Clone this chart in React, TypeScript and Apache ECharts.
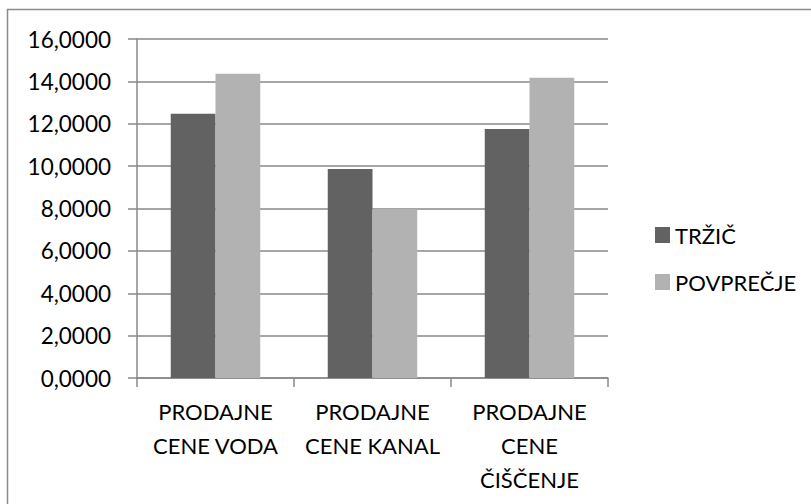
import React, { useEffect, useRef } from "react";
import * as echarts from "echarts";

const categories = [
  "PRODAJNE\nCENE VODA",
  "PRODAJNE\nCENE KANAL",
  "PRODAJNE\nCENE\nČIŠČENJE",
];
const seriesNames = ["TRŽIČ", "POVPREČJE"];
const trzicValues = [12.47, 9.86, 11.75];
const povprecjeValues = [14.36, 7.98, 14.17];
const yTicks = { min: 0, max: 16, interval: 2 };

const FONT = "Lato";

export default function App() {
  const ref = useRef<HTMLDivElement>(null);
  useEffect(() => {
    if (!ref.current) return;
    const chart = echarts.init(ref.current, null, { renderer: "svg" });
    chart.setOption({
      animation: false,
      backgroundColor: "#ffffff",
      textStyle: { fontFamily: FONT },
      graphic: [
        {
          type: "rect",
          shape: { x: 7.5, y: 9.5, width: 1000, height: 800 },
          style: { fill: "none", stroke: "#8c8c8c", lineWidth: 1.5 },
          silent: true,
        },
      ],
      grid: { left: 137, top: 39, right: 203, bottom: 126, containLabel: false },
      legend: {
        orient: "vertical",
        left: 650,
        top: 219,
        itemWidth: 15,
        itemHeight: 16,
        itemGap: 25,
        icon: "rect",
        textStyle: { fontFamily: FONT, fontSize: 22, color: "#000" },
        data: seriesNames,
      },
      xAxis: {
        type: "category",
        data: categories,
        axisLine: { show: true, lineStyle: { color: "#888", width: 1.5 } },
        axisTick: { show: true, length: 9, lineStyle: { color: "#888", width: 1.5 } },
        axisLabel: {
          interval: 0,
          color: "#000",
          fontFamily: FONT,
          fontSize: 22,
          lineHeight: 34,
          margin: 16,
        },
      },
      yAxis: {
        type: "value",
        min: yTicks.min,
        max: yTicks.max,
        interval: yTicks.interval,
        axisLine: { show: true, lineStyle: { color: "#888", width: 1.5 } },
        axisTick: { show: true, length: 9, lineStyle: { color: "#888", width: 1.5 } },
        splitLine: { show: true, lineStyle: { color: "#888", width: 1.5 } },
        axisLabel: {
          color: "#000",
          fontFamily: FONT,
          fontSize: 22.5,
          margin: 26,
          formatter: (v: number) => v.toFixed(4).replace(".", ","),
        },
      },
      series: [
        {
          name: seriesNames[0],
          type: "bar",
          data: trzicValues,
          itemStyle: { color: "#626262" },
          barGap: "0%",
          barCategoryGap: "43%",
        },
        {
          name: seriesNames[1],
          type: "bar",
          data: povprecjeValues,
          itemStyle: { color: "#b2b2b2" },
          barGap: "0%",
          barCategoryGap: "43%",
        },
      ],
    });
    return () => chart.dispose();
  }, []);
  return (
    <div
      ref={ref}
      style={{ position: "fixed", left: 0, top: 0, width: 811, height: 504 }}
    />
  );
}
